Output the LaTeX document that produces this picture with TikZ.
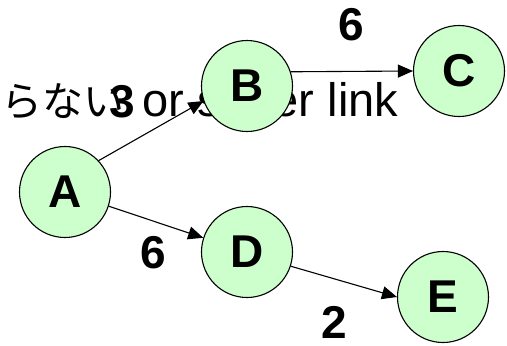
\documentclass[tikz,border=0pt]{standalone}
\usepackage{fontspec}
\setmainfont{Liberation Sans}
\newfontfamily\jpfont{Noto Sans CJK JP}
\usetikzlibrary{arrows.meta}
\definecolor{nodegreen}{HTML}{CCFFCC}
\begin{document}
\begin{tikzpicture}[x=1pt,y=-1pt,
  vert/.style={circle,draw=black,line width=1.1pt,fill=nodegreen,minimum size=91pt,inner sep=0pt,font=\fontsize{46}{50}\selectfont\bfseries},
  wlabel/.style={font=\fontsize{46}{50}\selectfont\bfseries,inner sep=0pt},
  edge/.style={-{Triangle[length=15pt,width=13pt]},line width=1.1pt}]
\useasboundingbox (0,0) rectangle (507,346);
\node[anchor=base west, inner sep=0pt, font=\fontsize{47}{52}\selectfont] (txt) at (1,116) {{\jpfont\fontsize{41}{46}\selectfont らない}\hspace{5pt} or super link};
\node[vert] (A) at (65,192) {A};
\node[vert] (B) at (247,86) {B};
\node[vert] (C) at (459,71) {C};
\node[vert] (D) at (247,252) {D};
\node[vert] (E) at (443,297) {E};
\draw[edge] (A.43) -- (B.199);
\draw[edge] (B.18) -- (C.180);
\draw[edge] (A.-18) -- (D.162);
\draw[edge] (D.-18) -- (E.180);
\node[wlabel] (l3) at (122,102) {3};
\node[wlabel] (l6a) at (351,25) {6};
\node[wlabel] (l6b) at (153,253) {6};
\node[wlabel] (l2) at (334,322) {2};
\end{tikzpicture}
\end{document}
